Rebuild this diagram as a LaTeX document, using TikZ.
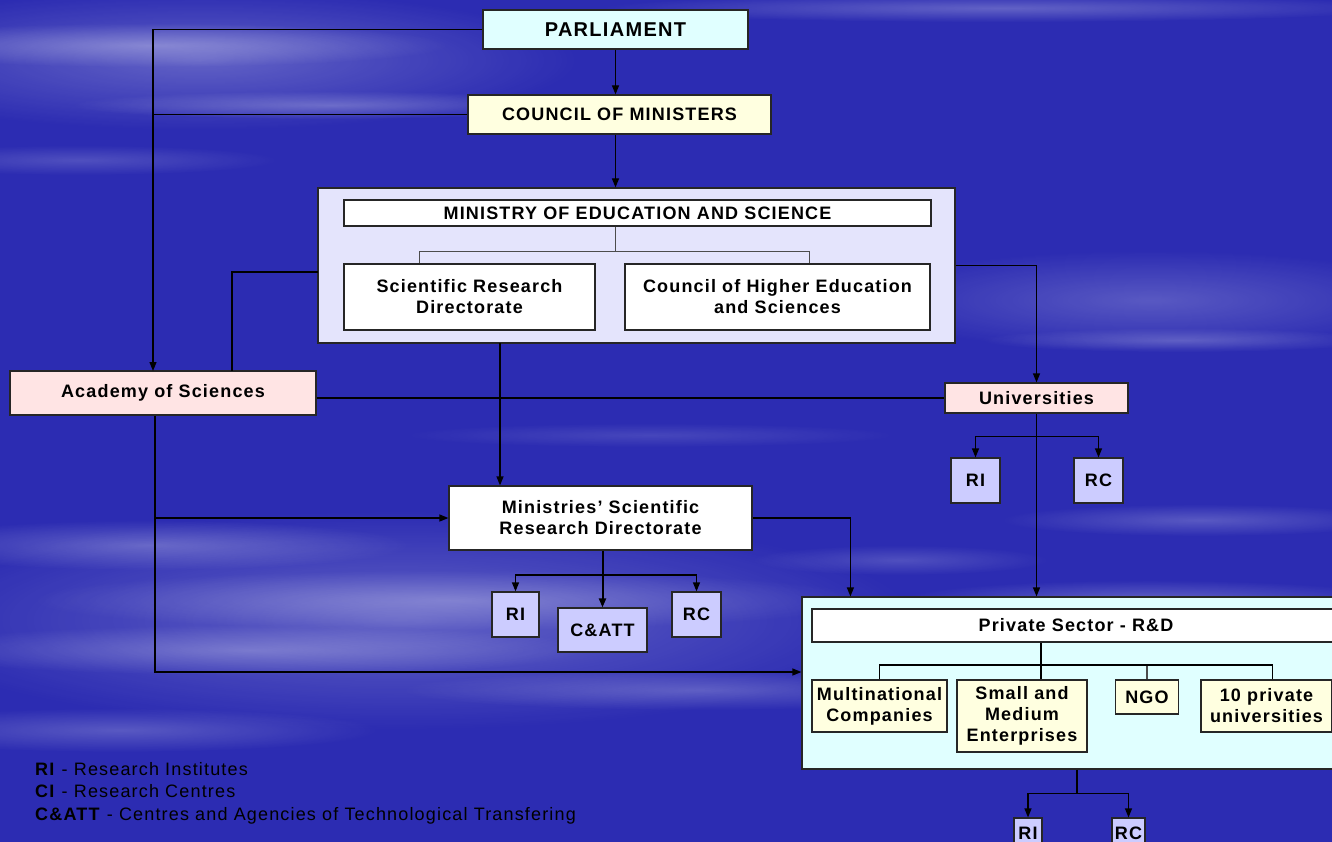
\documentclass[tikz,border=0pt]{standalone}
\usepackage{fontspec}
\setmainfont{Liberation Sans}[LetterSpace=6.5]
\usetikzlibrary{arrows.meta,calc,fadings}

\definecolor{skyblue}{RGB}{44,44,178}
\definecolor{paleCyan}{RGB}{224,255,255}
\definecolor{paleYellow}{RGB}{255,255,224}
\definecolor{paleLilac}{RGB}{228,228,252}
\definecolor{palePink}{RGB}{255,228,228}
\definecolor{boxLilac}{RGB}{204,204,255}

\tikzfading[name=softstreak, inner color=transparent!15, outer color=transparent!100]

\tikzset{
	orgbox/.style={draw=black!85, line width=1.2pt, inner sep=2pt, align=center,
		font=\fontsize{18}{21}\selectfont\bfseries},
	link/.style={line width=1.2pt, draw=black},
	arr/.style={-{Triangle[length=9pt,width=7pt]}},
	streak/.style={fill=white, fill opacity=#1, path fading=softstreak},
}

\begin{document}
\begin{tikzpicture}[x=1pt,y=-1pt]
	% sky behind the chart
	\clip (0,0) rectangle (1332,842);
	\fill[skyblue] (0,0) rectangle (1332,842);
	\path[streak=.3] (200,60) ellipse (380 and 70);
	\path[streak=.35] (150,45) ellipse (300 and 22);
	\path[streak=.3] (330,105) ellipse (260 and 14);
	\path[streak=.2] (80,160) ellipse (200 and 15);
	\path[streak=.3] (1000,8) ellipse (400 and 14);
	\path[streak=.25] (1150,300) ellipse (300 and 50);
	\path[streak=.25] (1180,340) ellipse (200 and 12);
	\path[streak=.15] (650,435) ellipse (250 and 12);
	\path[streak=.25] (1200,520) ellipse (200 and 16);
	\path[streak=.3] (400,620) ellipse (520 and 110);
	\path[streak=.3] (150,545) ellipse (260 and 25);
	\path[streak=.3] (450,600) ellipse (420 and 30);
	\path[streak=.3] (250,650) ellipse (350 and 25);
	\path[streak=.25] (700,690) ellipse (300 and 20);
	\path[streak=.3] (1150,600) ellipse (250 and 20);
	\path[streak=.25] (120,730) ellipse (260 and 22);
	\path[streak=.2] (900,560) ellipse (150 and 15);

	% government
	\node[orgbox, fill=paleCyan, minimum width=265pt, minimum height=39pt,
		font=\fontsize{20}{24}\selectfont\bfseries] (parl) at (615.5,29.5) {PARLIAMENT};
	\node[orgbox, fill=paleYellow, minimum width=303pt, minimum height=39pt] (council) at (619.5,114.5) {COUNCIL OF MINISTERS};

	% ministry block
	\node[orgbox, fill=paleLilac, minimum width=637pt, minimum height=155pt] (mes) at (636.5,265.5) {};
	\node[orgbox, fill=white, minimum width=587pt, minimum height=26pt, inner sep=0pt] (mestitle) at (637.5,213) {MINISTRY OF EDUCATION AND SCIENCE};
	\node[orgbox, fill=white, minimum width=251pt, minimum height=66pt] (srd) at (469.5,297) {Scientific Research\\Directorate};
	\node[orgbox, fill=white, minimum width=305pt, minimum height=66pt] (chs) at (777.5,297) {Council of Higher Education\\and Sciences};

	% academy and universities
	\node[orgbox, fill=palePink, minimum width=306pt, minimum height=44pt] (acad) at (163,393) {Academy of Sciences};
	\node[orgbox, fill=palePink, minimum width=183pt, minimum height=30pt, inner sep=0pt] (univ) at (1036.5,398) {Universities};
	\node[orgbox, fill=boxLilac, minimum width=49pt, minimum height=45pt] (uri) at (975.5,480.5) {RI};
	\node[orgbox, fill=boxLilac, minimum width=49pt, minimum height=45pt] (urc) at (1098.5,480.5) {RC};

	% ministries' directorate
	\node[orgbox, fill=white, minimum width=303pt, minimum height=64pt] (msrd) at (600.5,518) {Ministries' Scientific\\Research Directorate};
	\node[orgbox, fill=boxLilac, minimum width=47pt, minimum height=45pt] (mri) at (515.5,614.5) {RI};
	\node[orgbox, fill=boxLilac, minimum width=89pt, minimum height=44pt] (mcatt) at (602.5,630) {C\&ATT};
	\node[orgbox, fill=boxLilac, minimum width=49pt, minimum height=45pt] (mrc) at (696.5,614.5) {RC};

	% private sector block
	\node[orgbox, fill=paleCyan, minimum width=538pt, minimum height=172pt] (priv) at (1071,683) {};
	\node[orgbox, fill=white, minimum width=528pt, minimum height=33pt] (privtitle) at (1076,625.5) {Private Sector - R\&D};
	\node[orgbox, fill=paleYellow, minimum width=135pt, minimum height=52pt, inner sep=0pt] (multi) at (879.5,706) {Multinational\\Companies};
	\node[orgbox, fill=paleYellow, minimum width=130pt, minimum height=72pt, inner sep=0pt] (sme) at (1022,716) {Small and\\Medium\\Enterprises};
	\node[orgbox, fill=paleYellow, minimum width=63pt, minimum height=34pt] (ngo) at (1147,697) {NGO};
	\node[orgbox, fill=paleYellow, minimum width=131pt, minimum height=52pt, inner sep=0pt] (tenpriv) at (1266.5,706) {10 private\\universities};
	\node[orgbox, fill=boxLilac, minimum width=28pt, minimum height=30pt, inner sep=1pt] (pri) at (1028,833) {RI};
	\node[orgbox, fill=boxLilac, minimum width=33pt, minimum height=30pt, inner sep=1pt] (prc) at (1128.5,833) {RC};

	% ports off the box centres
	\coordinate (acadinA) at (153,371);
	\coordinate (acadinB) at (232,371);
	\coordinate (mesoutW) at (318,272);
	\coordinate (mesoutS) at (500,343);
	\coordinate (acadout) at ($(acad.south)+(-8,0)$);
	\coordinate (ubranch) at ($(univ.south)+(0,23)$);
	\coordinate (mbranch) at (mcatt.north |- 0,575);
	\coordinate (mestop) at (parl.south |- mestitle.south);
	\coordinate (mesbus) at ($(mestop)+(0,25)$);
	\coordinate (pbus) at (1041,665);
	\coordinate (pout) at ($(priv.south)+(6,0)$);
	\coordinate (pbranch) at ($(pout)+(0,24)$);

	% top of the chart
	\draw[link,arr] (parl.south) -- (parl.south |- council.north);
	\draw[link,arr] (parl.south |- council.south) -- (parl.south |- mes.north);
	\draw[link,arr] (parl.west) -| (acadinA);
	\draw[link] (council.west) -- (council.west -| acadinA);
	\draw[link] (mesoutW) -| (acadinB);
	\draw[link,arr] (mes.east) -| (univ.north);
	\draw[link] (acad.east |- univ.west) -- (univ.west);

	% inside the ministry
	\draw[link, draw=black!70] (mestop) -- (mesbus);
	\draw[link, draw=black!70] (mesbus) -| ($(srd.north)+(-50,0)$);
	\draw[link, draw=black!70] (mesbus) -| ($(chs.north)+(32,0)$);

	% universities
	\draw[link,arr] (univ.south) -- (univ.south |- priv.north);
	\draw[link,arr] (ubranch) -| (uri.north);
	\draw[link,arr] (ubranch) -| (urc.north);

	% ministries' directorate
	\draw[link,arr] (mesoutS) -- (mesoutS |- msrd.north);
	\draw[link,arr] (acadout) |- ($(priv.west)+(0,-11)$);
	\draw[link,arr] (acadout |- msrd.west) -- (msrd.west);
	\draw[link,arr] (msrd.east) -| ($(priv.north west)+(49,0)$);
	\draw[link,arr,line width=2pt] (mcatt.north |- msrd.south) -- (mcatt.north);
	\draw[link,arr] (mbranch) -| (mri.north);
	\draw[link,arr] (mbranch) -| (mrc.north);

	% inside the private sector
	\draw[link] (pbus |- privtitle.south) -- (pbus |- sme.north);
	\draw[link] (pbus) -| (multi.north);
	\draw[link, draw=black!70] (pbus) -| (ngo.north);
	\draw[link] (pbus) -| ($(tenpriv.north)+(6,0)$);
	\draw[link] (pout) -- (pbranch);
	\draw[link,arr] (pbranch) -| (pri.north);
	\draw[link,arr] (pbranch) -| (prc.north);

	% legend
	\node[anchor=base west, inner sep=0pt, font=\fontsize{18}{21}\selectfont] (legri) at (35,775) {\textbf{RI} - Research Institutes};
	\node[anchor=base west, inner sep=0pt, font=\fontsize{18}{21}\selectfont] (legci) at (35,797) {\textbf{CI} - Research Centres};
	\node[anchor=base west, inner sep=0pt, font=\fontsize{18}{21}\selectfont] (legcatt) at (35,820) {\textbf{C\&ATT} - Centres and Agencies of Technological Transfering};
\end{tikzpicture}
\end{document}
